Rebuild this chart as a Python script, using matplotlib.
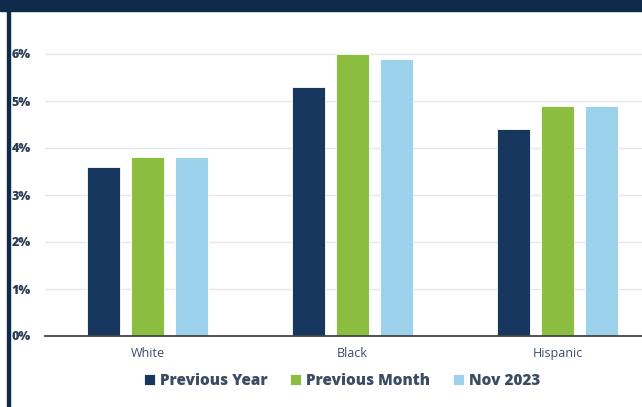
import matplotlib.pyplot as plt
import numpy as np

groups = ["White", "Black", "Hispanic"]
series = ["Previous Year", "Previous Month", "Nov 2023"]
prev_year = [3.6, 5.3, 4.4]
prev_month = [3.8, 6.0, 4.9]
nov_2023 = [3.8, 5.9, 4.9]
yticks = [0, 1, 2, 3, 4, 5, 6]

colors = ["#17375e", "#8bbd40", "#9dd2ec"]
navy = "#0f2b4c"
text_col = "#2d3f58"
legend_col = "#3b4c63"

plt.rcParams['font.family'] = ['Open Sans', 'DejaVu Sans']

fig = plt.figure(figsize=(6.42, 4.07), dpi=100)
ax = fig.add_axes([45/642, 71/407, 615/642, 325/407])

x = np.arange(len(groups))
step = 0.215
width = 0.162
for i, (vals, name) in enumerate(zip([prev_year, prev_month, nov_2023], series)):
    ax.bar(x + (i - 1)*step, vals, width, color=colors[i], label=name,
           edgecolor="white", linewidth=0.6, zorder=3)

ax.set_xlim(-0.5, 2.5)
ax.set_ylim(0, 325/47)
ax.set_yticks(yticks)
ax.set_yticklabels(["%d%%" % t for t in yticks], fontsize=9, fontweight=800, color=text_col)
ax.set_xticks(x)
ax.set_xticklabels(groups, fontsize=9, color="#3a4d66")
ax.tick_params(axis="y", length=0, pad=10)
ax.tick_params(axis="x", length=0, pad=8)
ax.grid(axis="y", color="#e4e8ee", linewidth=1.0, zorder=0)
for s in ["top", "right", "left"]:
    ax.spines[s].set_visible(False)
ax.spines["bottom"].set_color("#444444")
ax.spines["bottom"].set_linewidth(1.3)
ax.spines["bottom"].set_zorder(4)

# frame: top band and left rule
fig.patches.append(plt.Rectangle((0, 1 - 11/407), 1, 11/407, transform=fig.transFigure,
                                 color=navy, zorder=10))
fig.patches.append(plt.Rectangle((7/642, 0), 3/642, 1, transform=fig.transFigure,
                                 color=navy, zorder=10))

leg = fig.legend(loc="center", bbox_to_anchor=(342/642, 1 - 381/407), ncol=3, frameon=False,
                 handlelength=0.72, handleheight=0.72, handletextpad=0.35, columnspacing=1.45,
                 prop={"size": 11, "weight": 800})
for t in leg.get_texts():
    t.set_color(legend_col)

fig.savefig("out.png", dpi=100)
